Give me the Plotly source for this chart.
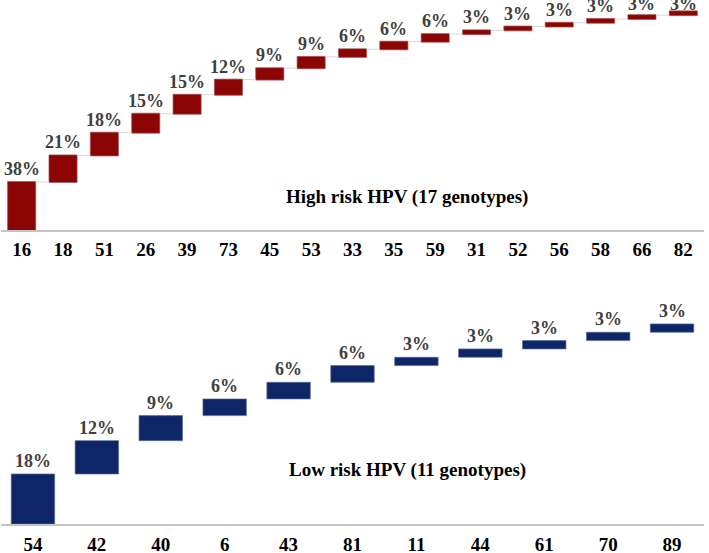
import plotly.graph_objects as go
from itertools import accumulate

high_genotypes = ["16", "18", "51", "26", "39", "73", "45", "53", "33", "35", "59", "31", "52", "56", "58", "66", "82"]
high_values = [38, 21, 18, 15, 15, 12, 9, 9, 6, 6, 6, 3, 3, 3, 3, 3, 3]

low_genotypes = ["54", "42", "40", "6", "43", "81", "11", "44", "61", "70", "89"]
low_values = [18, 12, 9, 6, 6, 6, 3, 3, 3, 3, 3]

serif = "Liberation Serif"
H = 553.0
L, R = 1, 5
W_plot = 709 - L - R

fig = go.Figure()

fig.add_trace(go.Waterfall(
    x=high_genotypes, y=high_values, measure=["relative"] * len(high_values),
    increasing=dict(marker=dict(color="#8c0505", line=dict(color="rgba(160,80,80,0.7)", width=1))),
    connector=dict(mode="between", line=dict(color="#d6d6d6", width=1)),
    xaxis="x", yaxis="y", showlegend=False, hoverinfo="skip",
))

fig.add_trace(go.Waterfall(
    x=low_genotypes, y=low_values, measure=["relative"] * len(low_values),
    increasing=dict(marker=dict(color="#0c2667", line=dict(color="rgba(90,110,150,0.7)", width=1))),
    connector=dict(visible=False),
    xaxis="x2", yaxis="y2", showlegend=False, hoverinfo="skip",
))

annotations = []
# value labels: at the top of each bar (category index position), kept inside the page top
high_top = 182
for i, (v, c) in enumerate(zip(high_values, accumulate(high_values))):
    annotations.append(dict(text=f"<b>{v}%</b>", x=i, y=min(c, high_top - 13.5), xref="x", yref="y",
                            yanchor="bottom", yshift=1, showarrow=False,
                            font=dict(family=serif, size=18, color="#404040")))
for i, (v, c) in enumerate(zip(low_values, accumulate(low_values))):
    annotations.append(dict(text=f"<b>{v}%</b>", x=i, y=c, xref="x2", yref="y2",
                            yanchor="bottom", yshift=1, showarrow=False,
                            font=dict(family=serif, size=18, color="#404040")))

annotations += [
    dict(text="<b>High risk HPV (17 genotypes)</b>", x=(530 - L) / W_plot, y=(H - 197) / H,
         xref="paper", yref="paper", showarrow=False,
         font=dict(family=serif, size=19, color="black")),
    dict(text="<b>Low risk HPV (11 genotypes)</b>", x=(528 - L) / W_plot, y=(H - 483) / H,
         xref="paper", yref="paper", showarrow=False,
         font=dict(family=serif, size=19, color="black")),
]

fig.update_layout(
    width=709, height=553,
    margin=dict(l=L, r=R, t=0, b=0, autoexpand=False),
    plot_bgcolor="white", paper_bgcolor="white",
    waterfallgap=0.32,
    xaxis=dict(domain=[0, 1], anchor="y", showline=True, linecolor="#c4c4c4", linewidth=2,
               range=[-0.5, len(high_genotypes) - 0.5], automargin=False,
               showgrid=False, zeroline=False, ticks="", ticklabelstandoff=1,
               tickfont=dict(family=serif, size=19, color="black", weight="bold")),
    yaxis=dict(domain=[(H - 230) / H, 1], anchor="x", range=[0, high_top], visible=False,
               showgrid=False, zeroline=False, automargin=False),
    xaxis2=dict(domain=[0, 1], anchor="y2", showline=True, linecolor="#c4c4c4", linewidth=2,
                range=[-0.5, len(low_genotypes) - 0.5], automargin=False,
                showgrid=False, zeroline=False, ticks="", ticklabelstandoff=2,
                tickfont=dict(family=serif, size=19, color="black", weight="bold")),
    yaxis2=dict(domain=[(H - 524) / H, (H - 290) / H], anchor="x2", range=[0, 84.2], visible=False,
                showgrid=False, zeroline=False, automargin=False),
    annotations=annotations,
    hovermode=False,
)

fig.write_html("out.html", config={"displayModeBar": False},
               post_script="document.body.style.margin='0';document.body.style.overflow='hidden';")
